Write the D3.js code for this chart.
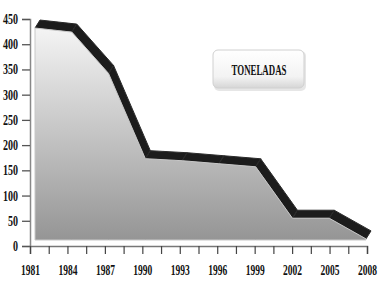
<!DOCTYPE html>
<html>
<head>
<meta charset="utf-8">
<script src="https://cdn.jsdelivr.net/npm/d3@7"></script>
<style>
  body { margin: 0; background: #fff; }
  svg { display: block; }
</style>
</head>
<body>
<svg></svg>
<script>
let years = [1981, 1984, 1987, 1990, 1993, 1996, 1999, 2002, 2005, 2008]
let toneladas = [440, 432, 350, 181, 177, 171, 165, 63, 63, 22]
let yTicks = [0, 50, 100, 150, 200, 250, 300, 350, 400, 450]
let seriesName = "TONELADAS"

let width = 388
let height = 286
let depthX = 5
let depthY = -8

let svg = d3.select("svg").attr("width", width).attr("height", height)

let xAxesScale = d3.scaleLinear().domain([1981, 2008]).range([30, 367])
let xScale = d3.scaleLinear().domain([1981, 2008]).range([35, 366])
let yScale = d3.scaleLinear().domain([0, 450]).range([246, 19])

let defs = svg.append("defs")
let grad = defs.append("linearGradient").attr("id", "face")
  .attr("x1", 0).attr("y1", 0).attr("x2", 0).attr("y2", 1)
grad.append("stop").attr("offset", "0%").attr("stop-color", "#f4f4f4")
grad.append("stop").attr("offset", "100%").attr("stop-color", "#959595")

let boxGrad = defs.append("linearGradient").attr("id", "box")
  .attr("x1", 0).attr("y1", 0).attr("x2", 0).attr("y2", 1)
boxGrad.append("stop").attr("offset", "0%").attr("stop-color", "#ffffff")
boxGrad.append("stop").attr("offset", "70%").attr("stop-color", "#f3f3f3")
boxGrad.append("stop").attr("offset", "100%").attr("stop-color", "#d6d6d6")

defs.append("filter").attr("id", "soft")
  .append("feGaussianBlur").attr("stdDeviation", 0.6)

let pts = years.map((y, i) => [xScale(y), yScale(toneladas[i]) + 4])
let baseY = yScale(0) - 6

// top band (3d depth)
let band = []
for (let i = 0; i < pts.length - 1; i++) {
  let a = pts[i], b = pts[i + 1]
  band.push([a, b, [b[0] + depthX, b[1] + depthY], [a[0] + depthX, a[1] + depthY]])
}
svg.append("g").selectAll("polygon")
  .data(band)
  .enter()
  .append("polygon")
  .attr("points", d => d.map(p => p.join(",")).join(" "))
  .attr("fill", "#1e1e1e")
  .attr("stroke", "#2a2a2a")
  .attr("stroke-width", 1)
  .attr("filter", "url(#soft)")

// front face
let area = d3.area()
  .x(d => d[0])
  .y0(baseY)
  .y1(d => d[1])
svg.append("path")
  .datum(pts)
  .attr("d", area)
  .attr("fill", "url(#face)")
  .attr("stroke", "#c8c8c8")
  .attr("stroke-width", 1)

// axes
let serif = "'Liberation Serif', 'Times New Roman', serif"

let yAxis = d3.axisLeft(yScale).tickValues(yTicks).tickSize(8).tickPadding(4)
let gy = svg.append("g")
  .attr("transform", "translate(" + xAxesScale(1981) + ",0)")
  .call(yAxis)
gy.select(".domain").attr("stroke", "#888").attr("stroke-width", 1.5)
gy.selectAll(".tick line").attr("stroke", "#555").attr("stroke-width", 1.3)
gy.selectAll(".tick text")
  .attr("font-family", serif)
  .attr("font-size", 14)
  .attr("font-weight", "bold")
  .attr("fill", "#111")
  .attr("textLength", d => String(d).length * 5)
  .attr("lengthAdjust", "spacingAndGlyphs")

let xTicks = d3.range(1981, 2008.01, 1.5)
let xAxis = d3.axisBottom(xAxesScale).tickValues(xTicks).tickSize(8).tickPadding(10)
  .tickFormat(d => (d - 1981) % 3 === 0 ? String(d) : "")
let gx = svg.append("g")
  .attr("transform", "translate(0," + yScale(0) + ")")
  .call(xAxis)
gx.select(".domain").attr("stroke", "#777").attr("stroke-width", 1.5)
gx.selectAll(".tick line").attr("stroke", "#444").attr("stroke-width", 1.2)
gx.selectAll(".tick text")
  .attr("font-family", serif)
  .attr("font-size", 15)
  .attr("font-weight", "bold")
  .attr("fill", "#111")
  .filter(d => (d - 1981) % 3 === 0)
  .attr("textLength", 19)
  .attr("lengthAdjust", "spacingAndGlyphs")

// legend box
let lg = svg.append("g")
lg.append("rect")
  .attr("x", 214).attr("y", 51).attr("width", 92).attr("height", 40)
  .attr("rx", 5)
  .attr("fill", "#e6e6e6")
lg.append("rect")
  .attr("x", 213).attr("y", 50).attr("width", 91).attr("height", 38)
  .attr("rx", 5)
  .attr("fill", "url(#box)")
  .attr("stroke", "#d0d0d0")
lg.append("text")
  .attr("x", 259).attr("y", 75)
  .attr("text-anchor", "middle")
  .attr("font-family", serif)
  .attr("font-size", 15)
  .attr("font-weight", "bold")
  .attr("fill", "#111")
  .attr("textLength", 55)
  .attr("lengthAdjust", "spacingAndGlyphs")
  .text(seriesName)
</script>
</body>
</html>
